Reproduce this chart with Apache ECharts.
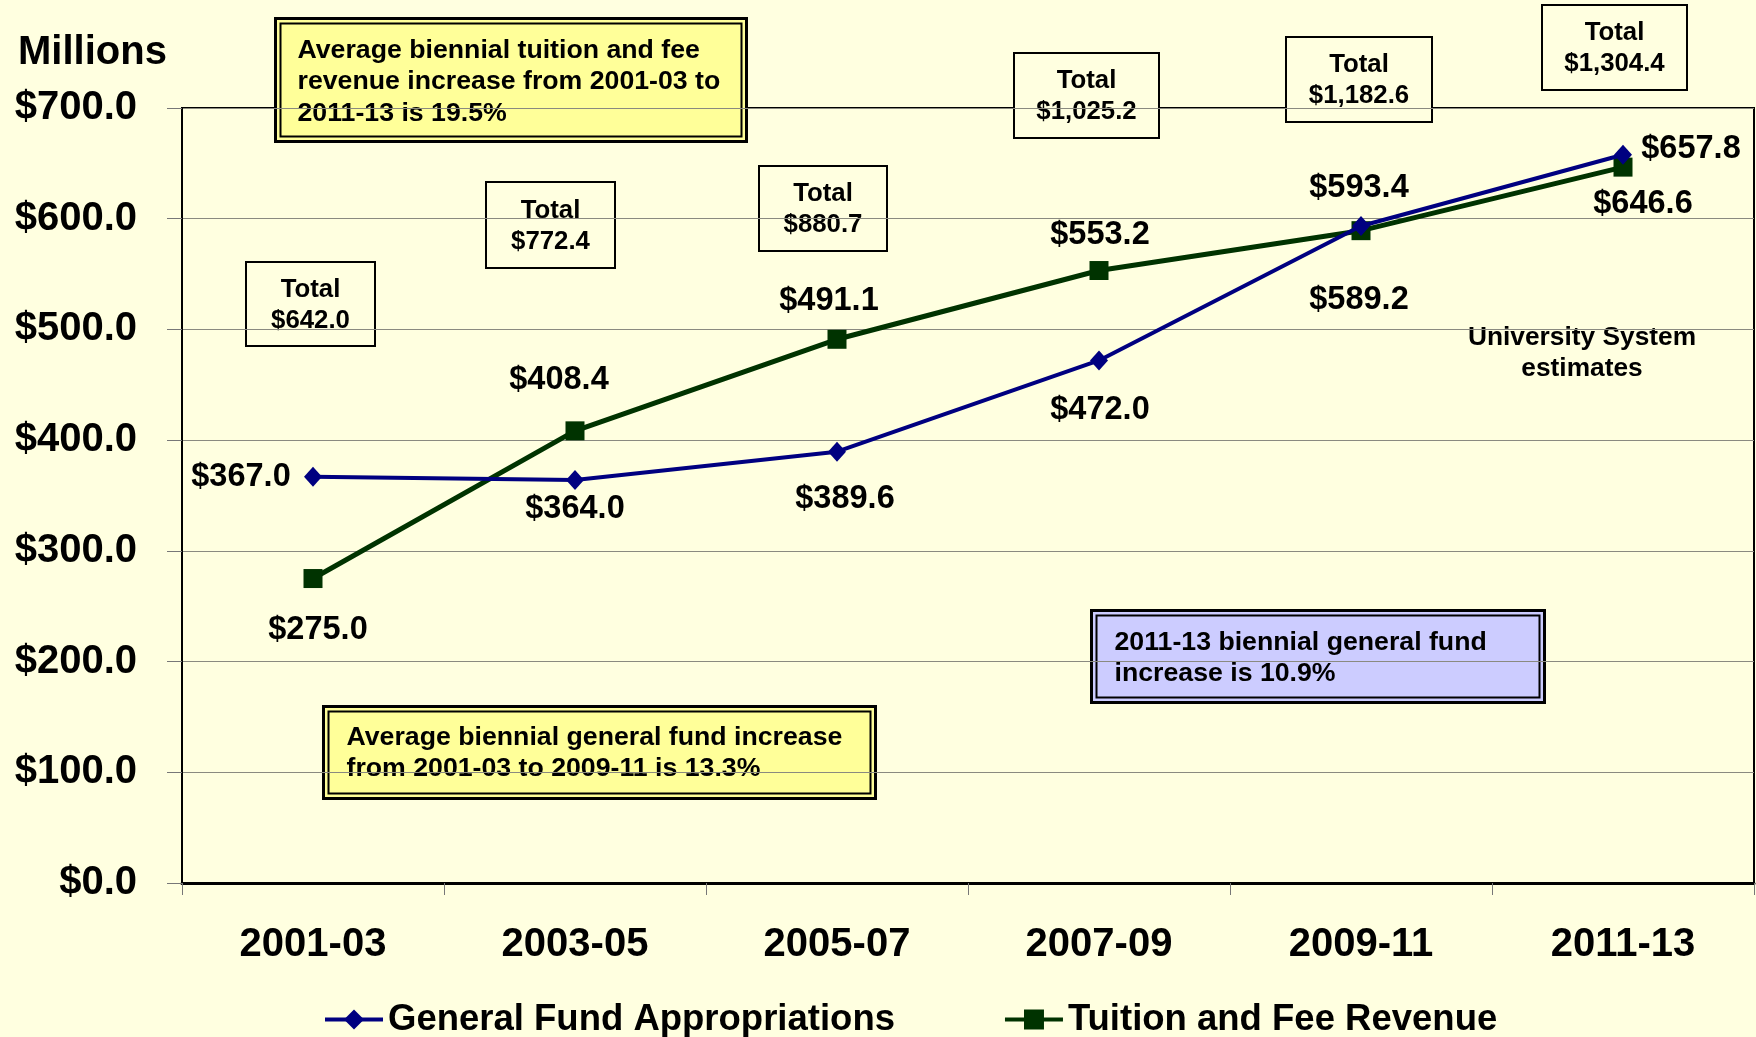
<!DOCTYPE html>
<html>
<head>
<meta charset="utf-8">
<script src="https://cdn.jsdelivr.net/npm/echarts@6/dist/echarts.min.js"></script>
<style>
  html, body { margin: 0; padding: 0; background: #FFFFE0; }
  #main { width: 1756px; height: 1037px; }
</style>
</head>
<body>
<div id="main"></div>
<script>
// data
var periods = ['2001-03', '2003-05', '2005-07', '2007-09', '2009-11', '2011-13'];
var generalFund = [367.0, 364.0, 389.6, 472.0, 593.4, 657.8];
var tuitionFees = [275.0, 408.4, 491.1, 553.2, 589.2, 646.6];
var totals = [642.0, 772.4, 880.7, 1025.2, 1182.6, 1304.4];
var yTicks = [0, 100, 200, 300, 400, 500, 600, 700];

// label nudges (label centre minus point centre), px
var gfOffsets = [[-72, 0], [0, 29], [8, 47], [1, 50], [-2, -38], [68, -6]];
var tfOffsets = [[5, 51], [-16, -51], [-8, -38], [1, -35], [-2, 69], [20, 37]];
// total boxes: [left, top, width, height]
var totalBoxes = [
  [245, 261, 129, 84], [485, 181, 129, 86], [758, 165, 128, 85],
  [1013, 52, 145, 85], [1285, 36, 146, 85], [1541, 4, 145, 85]
];

var FONT = '"Liberation Sans", Arial, sans-serif';
var BG = '#FFFFE0';

function money(v) {
  return '$' + v.toFixed(1).replace(/\B(?=(\d{3})+(?!\d))/g, ',');
}

function withLabels(values, offsets) {
  return values.map(function (v, i) {
    return { value: v, label: { offset: offsets[i] } };
  });
}

function noteBox(x, y, w, h, fill, lines, tx, ty) {
  return {
    type: 'group',
    left: x, top: y,
    children: [
      { type: 'rect', shape: { x: 0, y: 0, width: w, height: h },
        style: { fill: fill, stroke: '#000', lineWidth: 3 } },
      { type: 'rect', shape: { x: 5, y: 5, width: w - 10, height: h - 10 },
        style: { fill: 'none', stroke: '#000', lineWidth: 2 } },
      { type: 'text', x: tx, y: ty,
        style: { text: lines.join('\n'), fill: '#000', fontSize: 26.7, fontWeight: 'bold',
                 fontFamily: FONT, lineHeight: 31.5, textVerticalAlign: 'top' } }
    ]
  };
}

var graphics = [];
totals.forEach(function (t, i) {
  var b = totalBoxes[i];
  graphics.push({
    type: 'group', left: b[0], top: b[1],
    children: [
      { type: 'rect', shape: { x: 0, y: 0, width: b[2], height: b[3] },
        style: { fill: BG, stroke: '#000', lineWidth: 2 } },
      { type: 'text', x: b[2] / 2, y: b[3] / 2 + 1,
        style: { text: 'Total\n' + money(t), fill: '#000', fontSize: 25.8, fontWeight: 'bold',
                 fontFamily: FONT, lineHeight: 31, textAlign: 'center', textVerticalAlign: 'middle' } }
    ]
  });
});
graphics.push(noteBox(274, 17, 471, 123, '#FFFF99',
  ['Average biennial tuition and fee', 'revenue increase from 2001-03 to', '2011-13 is 19.5%'], 22, 16));
graphics.push(noteBox(322, 705, 552, 92, '#FFFF99',
  ['Average biennial general fund increase', 'from 2001-03 to 2009-11 is 13.3%'], 23, 15));
graphics.push(noteBox(1090, 609, 453, 92, '#CCCCFF',
  ['2011-13 biennial general fund', 'increase is 10.9%'], 23, 16));
graphics.push({
  type: 'text', left: 1462, top: 320,
  style: { text: 'University System\nestimates', fill: '#000', fontSize: 26.3, fontWeight: 'bold',
           fontFamily: FONT, lineHeight: 31, textAlign: 'center', backgroundColor: BG, padding: [2, 6] }
});

var myChart = echarts.init(document.getElementById('main'));

var labelStyle = {
  show: true,
  position: 'inside',
  color: '#000',
  fontSize: 32.5,
  fontWeight: 'bold',
  fontFamily: FONT,
  formatter: function (p) { return money(p.value); }
};

var option = {
  backgroundColor: BG,
  animation: false,
  textStyle: { fontFamily: FONT },
  title: {
    text: 'Millions', left: 13, top: 28,
    textStyle: { fontSize: 40, fontWeight: 'bold', color: '#000', fontFamily: FONT }
  },
  grid: {
    left: 182, right: 2, top: 108, bottom: 154,
    show: true, borderColor: '#000', borderWidth: 2, backgroundColor: 'transparent'
  },
  legend: {
    left: 318, top: 996,
    itemWidth: 58, itemHeight: 25, itemGap: 108,
    lineStyle: { width: 4 },
    textStyle: { fontSize: 36.5, fontWeight: 'bold', color: '#000', fontFamily: FONT },
    data: ['General Fund Appropriations', 'Tuition and Fee Revenue']
  },
  xAxis: {
    type: 'category',
    data: periods,
    boundaryGap: true,
    axisLine: { lineStyle: { color: '#000', width: 3 } },
    axisTick: { show: true, length: 12, lineStyle: { color: '#777', width: 1 } },
    axisLabel: { margin: 42, fontSize: 40, fontWeight: 'bold', color: '#000', fontFamily: FONT }
  },
  yAxis: {
    type: 'value',
    min: yTicks[0], max: yTicks[yTicks.length - 1], interval: 100,
    axisLine: { show: true, lineStyle: { color: '#000', width: 2 } },
    axisTick: { show: true, length: 15, lineStyle: { color: '#777', width: 1 } },
    splitLine: { show: true, lineStyle: { color: '#8a8a80', width: 1 } },
    axisLabel: {
      margin: 45, fontSize: 40, fontWeight: 'bold', color: '#000', fontFamily: FONT,
      formatter: function (v) { return money(v); }
    }
  },
  series: [
    {
      name: 'General Fund Appropriations',
      type: 'line',
      data: withLabels(generalFund, gfOffsets),
      symbol: 'diamond', symbolSize: [18, 20],
      lineStyle: { color: '#000080', width: 4 },
      itemStyle: { color: '#000080' },
      label: labelStyle,
      z: 3
    },
    {
      name: 'Tuition and Fee Revenue',
      type: 'line',
      data: withLabels(tuitionFees, tfOffsets),
      symbol: 'rect', symbolSize: 19,
      lineStyle: { color: '#003300', width: 5 },
      itemStyle: { color: '#003300' },
      label: labelStyle,
      z: 2
    }
  ],
  graphic: graphics
};

myChart.setOption(option);
</script>
</body>
</html>
